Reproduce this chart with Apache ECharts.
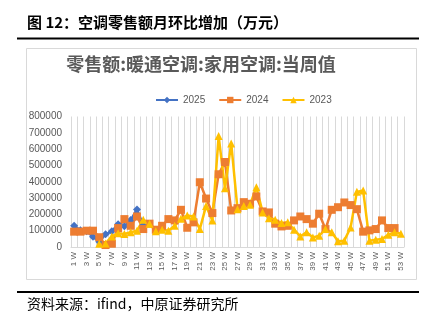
<!DOCTYPE html>
<html>
<head>
<meta charset="utf-8">
<script src="https://cdn.jsdelivr.net/npm/echarts@6/dist/echarts.min.js"></script>
<style>
html,body{margin:0;padding:0;background:#fff;}
#c{width:433px;height:322px;}
</style>
</head>
<body>
<div id="c"></div>
<script>
// Weekly retail sales of household air conditioners (10k CNY)
const weeks = [];
for (let i = 1; i <= 53; i++) weeks.push(i + ' W');

const s2025 = [130000, 102000, 96000, 63000, 32000, 78000, 96000, 140000, 127000, 165000, 230000, 134000];

const s2024 = [94000, 94000, 100000, 100000, 60000, 12000, 20000, 116000, 171000, 130000,
  187000, 110000, 143000, 106000, 130000, 171000, 163000, 228000, 118000, 151000,
  397000, 297000, 208000, 446000, 521000, 224000, 238000, 275000, 265000, 310000,
  218000, 212000, 143000, 126000, 130000, 163000, 187000, 171000, 143000, 204000,
  110000, 228000, 244000, 273000, 257000, 232000, 94000, 102000, 110000, 163000,
  116000, 116000, null];

const s2023 = [null, null, null, null, 20000, 22000, 65000, 85000, 80000, 90000,
  100000, 167000, 143000, 96000, 106000, 100000, 130000, 173000, 193000, 187000,
  110000, 252000, 163000, 680000, 360000, 635000, 232000, 252000, 259000, 367000,
  212000, 177000, 167000, 147000, 151000, 106000, 65000, 90000, 59000, 69000,
  110000, 90000, 35000, 39000, 120000, 338000, 346000, 39000, 45000, 49000,
  75000, 90000, 81000];

const seriesNames = ['2025', '2024', '2023'];
const yTicks = { min: 0, max: 800000, step: 100000 };

const chart = echarts.init(document.getElementById('c'), null, { renderer: 'canvas' });

const cjk = '"Noto Sans CJK SC", "Noto Sans", sans-serif';
const latin = '"Liberation Sans", "Noto Sans", sans-serif';

function lineSeries(name, data, color, symbol, size) {
  return {
    name: name,
    type: 'line',
    data: data,
    symbol: symbol,
    symbolSize: size,
    showAllSymbol: true,
    connectNulls: false,
    lineStyle: { color: color, width: 2.5 },
    itemStyle: { color: color },
    emphasis: { disabled: true },
    animation: false
  };
}

chart.setOption({
  animation: false,
  backgroundColor: '#fff',
  title: {
    text: '零售额:暖通空调:家用空调:当周值',
    left: 196,
    textAlign: 'center',
    top: 50,
    textStyle: { fontFamily: cjk, fontSize: 18, fontWeight: 'bold', color: '#595959' }
  },
  legend: {
    data: seriesNames,
    top: 90,
    left: 150,
    itemWidth: 22,
    itemHeight: 8,
    itemGap: 13,
    textStyle: { fontFamily: latin, fontSize: 10, color: '#595959' }
  },
  grid: { left: 71, right: 29, top: 116.5, bottom: 75, containLabel: false },
  xAxis: {
    type: 'category',
    data: weeks,
    boundaryGap: true,
    axisLine: { show: true, lineStyle: { color: '#d9d9d9', width: 1 } },
    axisTick: { show: false },
    axisLabel: {
      interval: 1,
      rotate: 90,
      fontFamily: latin,
      fontSize: 8,
      color: '#595959',
      margin: 5
    },
    splitLine: { show: true, interval: 0, lineStyle: { color: '#d9d9d9', width: 1 } }
  },
  yAxis: {
    type: 'value',
    min: yTicks.min,
    max: yTicks.max,
    interval: yTicks.step,
    axisLine: { show: false },
    axisTick: { show: false },
    splitLine: { show: false },
    axisLabel: {
      fontFamily: latin, fontSize: 10, color: '#595959', margin: 9,
      formatter: function (v) { return String(v); }
    }
  },
  series: [
    lineSeries(seriesNames[0], s2025, '#4472C4', 'diamond', 8),
    lineSeries(seriesNames[1], s2024, '#ED7D31', 'rect', 8),
    lineSeries(seriesNames[2], s2023, '#FFC000', 'triangle', 8)
  ],
  graphic: [
    { type: 'text', left: 27, top: 15,
      style: { text: '图 12：空调零售额月环比增加（万元）', font: 'bold 15px ' + cjk, fill: '#000' } },
    { type: 'rect', shape: { x: 17, y: 37.5, width: 402, height: 2 }, style: { fill: '#000' } },
    { type: 'rect', shape: { x: 26.5, y: 48.5, width: 390, height: 231 },
      style: { fill: 'none', stroke: '#d9d9d9', lineWidth: 1 }, z: -1 },
    { type: 'rect', shape: { x: 17, y: 291, width: 402, height: 2 }, style: { fill: '#000' } },
    { type: 'text', left: 27, top: 297,
      style: { text: '资料来源：ifind，中原证券研究所', font: '14px ' + cjk, fill: '#000' } }
  ]
});
</script>
</body>
</html>
